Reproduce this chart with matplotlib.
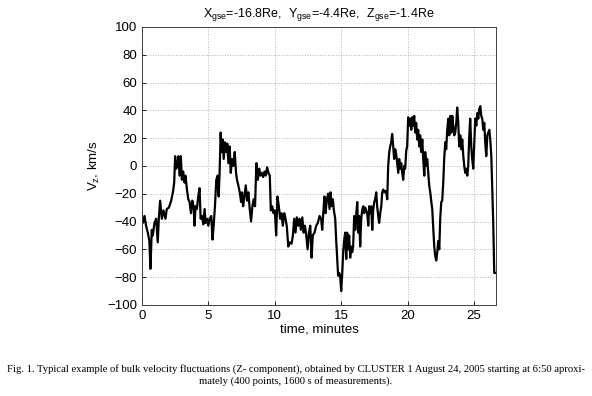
import numpy as np
import matplotlib.pyplot as plt

plt.rcParams['font.family'] = 'Liberation Sans'
plt.rcParams['mathtext.fontset'] = 'custom'
plt.rcParams['mathtext.rm'] = 'Liberation Sans'
plt.rcParams['mathtext.it'] = 'Liberation Sans'

# time (minutes) and Vz (km/s)
t_min = [0.00, 0.05, 0.18, 0.30, 0.43, 0.55, 0.63, 0.73, 0.81, 0.93, 1.06, 1.18, 1.26, 1.36, 1.49,
         1.61, 1.76, 1.86, 2.02, 2.19, 2.32, 2.42, 2.49, 2.57, 2.64, 2.75, 2.82, 2.92, 3.00, 3.10,
         3.20, 3.27, 3.38, 3.48, 3.58, 3.68, 3.78, 3.88, 3.95, 4.03, 4.13, 4.23, 4.33, 4.41, 4.51,
         4.61, 4.71, 4.79, 4.89, 4.99, 5.09, 5.21, 5.31, 5.39, 5.49, 5.59, 5.69, 5.77, 5.84, 5.92,
         5.99, 6.07, 6.15, 6.25, 6.35, 6.42, 6.50, 6.60, 6.68, 6.78, 6.88, 6.98, 7.08, 7.15, 7.25,
         7.36, 7.46, 7.53, 7.61, 7.71, 7.81, 7.91, 8.01, 8.11, 8.21, 8.31, 8.41, 8.51, 8.61, 8.72,
         8.82, 8.92, 9.02, 9.12, 9.22, 9.32, 9.42, 9.52, 9.62, 9.70, 9.80, 9.90, 10.00, 10.10, 10.20,
         10.30, 10.40, 10.50, 10.60, 10.71, 10.81, 10.91, 11.01, 11.13, 11.26, 11.36, 11.46, 11.56,
         11.66, 11.76, 11.86, 11.96, 12.07, 12.17, 12.27, 12.37, 12.47, 12.57, 12.67, 12.77,
         12.86, 12.99, 13.12, 13.24, 13.37, 13.49, 13.57, 13.67, 13.74, 13.82, 13.92, 14.02, 14.12,
         14.20, 14.27, 14.37, 14.45, 14.55, 14.62, 14.70, 14.77, 14.85, 14.92, 15.00, 15.08, 15.15,
         15.23, 15.30, 15.38, 15.45, 15.53, 15.60, 15.68, 15.75, 15.83, 15.90, 15.98, 16.06, 16.13,
         16.21, 16.28, 16.36, 16.43, 16.51, 16.58, 16.66, 16.73, 16.81, 16.88, 16.96, 17.04, 17.11,
         17.19, 17.26, 17.34, 17.41, 17.49, 17.56, 17.64, 17.71, 17.79, 17.86, 17.94, 18.02, 18.09,
         18.17, 18.24, 18.32, 18.39, 18.47, 18.54, 18.62, 18.69, 18.77, 18.84, 18.92, 18.99, 19.07,
         19.15, 19.22, 19.30, 19.37, 19.45, 19.52, 19.60, 19.67, 19.75, 19.82, 19.90, 19.97, 20.05,
         20.13, 20.20, 20.28, 20.35, 20.43, 20.50, 20.58, 20.65, 20.73, 20.80, 20.88, 20.95, 21.03,
         21.11, 21.18, 21.26, 21.33, 21.41, 21.48, 21.56, 21.63, 21.71, 21.78, 21.86, 21.93, 22.01,
         22.09, 22.16, 22.24, 22.31, 22.39, 22.46, 22.54, 22.61, 22.69, 22.76, 22.84, 22.91, 22.99,
         23.07, 23.14, 23.22, 23.29, 23.37, 23.44, 23.52, 23.59, 23.67, 23.74, 23.82, 23.89, 23.97,
         24.05, 24.12, 24.20, 24.27, 24.35, 24.42, 24.50, 24.57, 24.65, 24.72, 24.80, 24.87, 24.95,
         25.03, 25.10, 25.18, 25.25, 25.33, 25.40, 25.48, 25.55, 25.63, 25.70, 25.78, 25.85, 25.93,
         26.01, 26.08, 26.16, 26.23, 26.31, 26.38, 26.46, 26.53, 26.60]
vz = [-38, -41, -36, -43, -48, -54, -74, -46, -50, -41, -38, -55, -38, -25, -38,
      -32, -38, -31, -30, -25, -19, -12, 7, -2, 0, 7, -7, 7, -10, -4,
      -12, -7, -17, -24, -26, -34, -25, -29, -43, -29, -31, -22, -16, -38, -36,
      -42, -31, -41, -38, -43, -38, -36, -53, -43, -29, -10, -7, -22, -5, 24,
      10, 19, 5, 17, 10, 16, 2, 14, -5, 5, 0, 10, -5, -10, -14,
      -19, -26, -19, -29, -22, -14, -25, -19, -31, -40, -29, -24, -29, 2, -10,
      -2, -7, -5, -8, -4, -7, -1, -5, -7, -32, -29, -34, -32, -50, -22,
      -29, -38, -34, -43, -34, -38, -44, -58, -55, -56, -50, -38, -48,
      -37, -43, -38, -46, -37, -48, -43, -50, -60, -48, -43, -66,
      -50, -48, -43, -41, -36, -38, -46, -31, -22, -34, -24, -20, -31,
      -19, -29, -24, -32, -38, -53, -67, -79, -77, -79, -90, -77, -62,
      -53, -48, -67, -48, -60, -50, -66, -58, -62, -58, -36, -46, -35,
      -26, -48, -36, -58, -38, -32, -29, -34, -30, -32, -34, -43, -29,
      -34, -29, -46, -32, -26, -24, -19, -29, -36, -41, -34, -29, -19,
      -17, -19, -18, -19, -24, 0, 10, 14, 17, 23, 14, 5, 12,
      8, 2, -5, 5, -2, 2, -5, -10, 0, -2, 11, 14, 35,
      29, 34, 26, 35, 29, 36, 24, 31, 19, 26, 14, 22, 10,
      19, 5, -7, 10, 0, 5, -5, -14, -19, -25, -31, -43, -58,
      -65, -68, -62, -54, -60, -38, -26, -25, -12, 5, 17, 12, 26,
      34, 22, 36, 24, 36, 29, 22, 24, 31, 42, 31, 14, 22,
      12, 19, 7, 0, -5, -2, -7, 0, 22, 34, 14, 5, -2,
      17, 34, 29, 38, 34, 41, 43, 36, 34, 26, 31, 17, 7,
      22, 24, 26, 19, 7, -17, -43, -77, -77]

x_ticks = [0, 5, 10, 15, 20, 25]
y_ticks = list(range(-100, 101, 20))

fig = plt.figure(figsize=(5.92, 3.96), dpi=100)
ax = fig.add_axes([0.240, 0.230, 0.598, 0.702])

ax.plot(t_min, vz, color='black', lw=1.6)

ax.set_xlim(0, 26.67)
ax.set_ylim(-100, 100)
ax.set_xticks(x_ticks)
ax.set_yticks(y_ticks)
ax.tick_params(direction='in', labelsize=9.5, length=3, width=0.6)
ax.grid(True, ls=':', color='#b4b4b4', lw=0.7)
for s in ax.spines.values():
    s.set_linewidth(0.7)
    s.set_color('#404040')

ax.set_title(r'X$_{\rm gse}$=-16.8Re,  Y$_{\rm gse}$=-4.4Re,  Z$_{\rm gse}$=-1.4Re',
             fontsize=9, pad=7)
ax.set_xlabel('time, minutes', fontsize=9.5, labelpad=1)
ax.set_ylabel(r'V$_{\rm z}$, km/s', fontsize=9.5, labelpad=4)

fig.text(0.5, 0.052, 'Fig. 1. Typical example of bulk velocity fluctuations (Z- component), obtained by '
         'CLUSTER 1 August 24, 2005 starting at 6:50 aproxi-\nmately (400 points, 1600 s of measurements).',
         ha='center', va='center', fontsize=7.65, family='Liberation Serif', linespacing=1.25)

fig.savefig('out.png', dpi=100)
